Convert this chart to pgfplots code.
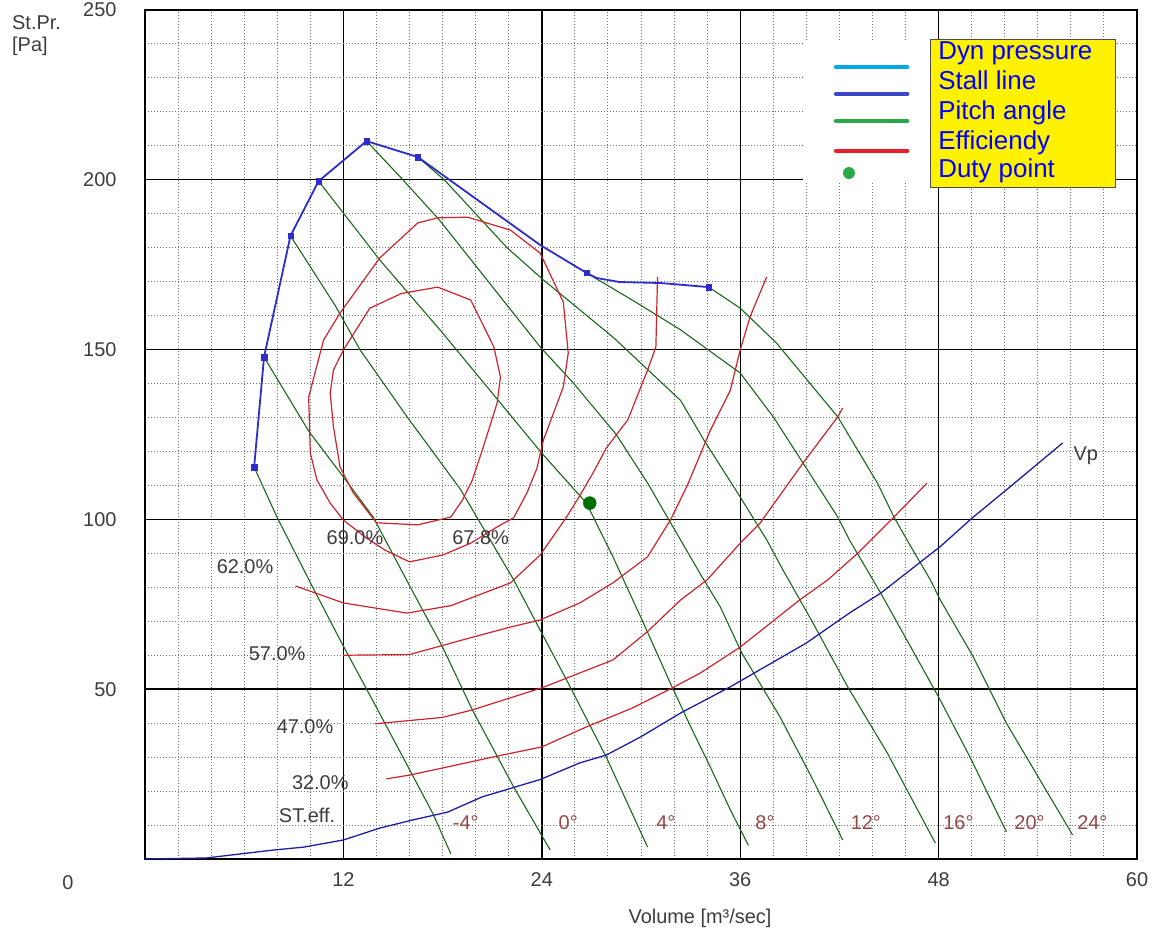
\documentclass[border=0pt]{standalone}
\usepackage{fontspec}
\setmainfont{Liberation Sans}
\usepackage{pgfplots}
\pgfplotsset{compat=1.18}

\definecolor{stall}{RGB}{45,45,205}
\definecolor{pitch}{RGB}{25,105,25}
\definecolor{eff}{RGB}{205,35,45}
\definecolor{vpc}{RGB}{30,30,165}
\definecolor{lbl}{RGB}{60,60,60}
\definecolor{deg}{RGB}{150,70,70}
\definecolor{duty}{RGB}{0,110,0}
\definecolor{dyn}{RGB}{0,170,230}
\definecolor{legstall}{RGB}{60,70,200}
\definecolor{leggreen}{RGB}{40,170,70}
\definecolor{legred}{RGB}{235,30,40}

\begin{document}
\begin{tikzpicture}
\path[use as bounding box] (-145bp,-77bp) rectangle (1013bp,859bp);
\begin{axis}[
  scale only axis, width=992bp, height=849bp,
  xmin=0, xmax=60, ymin=0, ymax=250,
  xtick={12,24,36,48,60}, ytick={50,100,150,200,250},
  minor xtick={0,2,...,60}, minor ytick={0,10,...,250},
  grid=both,
  major grid style={black, line width=1.4bp},
  minor grid style={black!55, line width=1bp, dash pattern=on 1.2bp off 1.8bp},
  major tick length=0pt, minor tick length=0pt,
  axis line style={black, line width=1.6bp},
  tick label style={font=\fontsize{20}{24}\selectfont, text=lbl},
  yticklabel style={xshift=-25bp},
  xticklabel style={yshift=-10bp},
  clip=false,
  /pgf/number format/assume math mode=true,
]
% pitch angle lines
\addplot[pitch, line width=1.1bp] coordinates {(6.6,115.4) (8.0,100.5) (10.2,79.5) (11.8,64.5) (14.2,42.8) (17.4,13.5) (18.5,1.5)};
\addplot[pitch, line width=1.1bp] coordinates {(7.2,147.8) (9.9,126) (12.0,112.5) (13.8,100.7) (16.0,80.5) (18.0,62.4) (19.8,43.9) (22.3,21.2) (24.5,2.7)};
\addplot[pitch, line width=1.1bp] coordinates {(8.8,183.5) (11.5,163) (13.0,150) (15.85,130.2) (17.2,121.3) (19.1,108.7) (22.3,82.2) (23.9,67.4) (25.5,52.7) (27.9,30) (30.4,3.5)};
\addplot[pitch, line width=1.1bp] coordinates {(10.5,199.6) (14.2,176.4) (18.0,154.9) (24.0,119.5) (26.7,104.8) (28.3,89) (30.1,70) (31.8,51.5) (33.0,39) (34.2,27) (35.4,14.5) (36.5,4)};
\addplot[pitch, line width=1.1bp] coordinates {(13.4,211.4) (15.6,200) (17.8,188.2) (23.9,150.8) (25.9,140.2) (28.5,125) (30.4,110.7) (31.8,98.9) (33.7,83) (34.8,74.2) (36.1,60.6) (38.4,41.9) (40.4,23.3) (42.2,5.6)};
\addplot[pitch, line width=1.1bp] coordinates {(16.5,206.7) (18.1,200) (21.9,180) (24.1,170.5) (28.3,153.7) (32.4,135) (33.8,123.4) (36.0,106.6) (37.6,94) (38.6,85) (40.4,69.5) (42.5,50.7) (44.9,31.2) (47.8,4.7)};
\addplot[pitch, line width=1.1bp] coordinates {(26.7,172.6) (29.5,164.5) (32.4,155.8) (36.0,143.1) (38.0,130.2) (39.8,116.6) (41.9,100.7) (42.6,94) (44.5,78.3) (48.1,46.8) (49.9,30) (52.1,8)};
\addplot[pitch, line width=1.1bp] coordinates {(34.1,168.4) (36.0,162.2) (38.2,151.9) (41.9,130.2) (44.3,110.7) (45.3,100.7) (46.2,93) (47.5,82.2) (48.1,76.3) (50.1,59.5) (52.1,40) (56.1,7.1)};
% efficiency curves
\addplot[eff, line width=1.2bp] coordinates {(20.4,120.4) (19.8,111.6) (19.2,105.7) (18.5,100.7) (16.5,98.4) (14.0,99) (12.6,107.8) (11.8,115.4) (11.4,127.2) (11.2,137.2) (11.4,144) (12.0,149.9) (13.6,162.2) (15.5,166.5) (17.7,168.4) (19.7,164.6) (21.1,150.8) (21.5,141.9) (21.3,134.3) (20.4,120.4)};
\addplot[eff, line width=1.2bp] coordinates {(24.1,123.4) (25.3,139) (25.6,149) (25.3,164) (23.9,178.4) (22.1,185.2) (19.5,189) (17.7,188.8) (16.5,187.3) (14.2,177) (11.8,160.8) (10.8,152.8) (9.9,136) (10.0,119.5) (10.4,111.6) (11.2,104.8) (12.0,99.8) (13.4,94.5) (14.5,91) (16.0,87.5) (18.0,89.5) (19.7,93) (21.3,97.8) (22.3,100.5) (23.1,107.8) (23.7,115) (24.1,123.4)};
\addplot[eff, line width=1.2bp] coordinates {(9.1,80.4) (12.0,75.4) (15.85,72.4) (18.5,74.6) (22.1,81.3) (23.9,89.5) (25.5,100.7) (26.3,107) (27.1,113.7) (27.9,121) (29.2,129.3) (30.4,144) (30.9,150.8) (31.0,171.4)};
\addplot[eff, line width=1.2bp] coordinates {(12.0,60) (16.0,60.2) (19.2,64.5) (22.1,68.3) (23.9,70.4) (26.3,75.4) (28.3,81.3) (30.4,89) (31.8,100) (32.8,110) (34.2,126.3) (35.4,138) (36.0,149.9) (36.6,159.7) (37.6,171.4)};
\addplot[eff, line width=1.2bp] coordinates {(13.9,39.8) (18.0,41.7) (19.8,43.9) (24.0,50.4) (28.3,58.6) (30.4,67) (32.4,76.3) (34.0,82.2) (36.0,93) (37.2,98.9) (39.8,116.6) (41.9,130.2) (42.2,132.8)};
\addplot[eff, line width=1.2bp] coordinates {(14.6,23.6) (16.0,24.7) (18.0,26.8) (21.3,30.3) (24.0,33) (26.7,38.9) (29.5,44.5) (31.9,50.4) (33.6,54.8) (36.0,62.4) (39.6,76.3) (41.3,82.2) (43.1,90) (45.3,100.7) (47.3,110.7)};
% Vp line
\addplot[vpc, line width=1.3bp] coordinates {(0,0) (3.7,0.3) (7.7,2.6) (9.6,3.5) (12.0,5.6) (14.2,9.1) (16.2,11.5) (18.3,13.8) (20.4,18.3) (23.9,23.4) (26.3,28.3) (27.9,30.6) (30.0,36) (32.4,43) (35.4,50.7) (40.0,63.6) (42.6,72.4) (44.5,78.3) (48.1,92) (50.1,100.7) (52.3,109.5) (55.5,122.5)};
% stall line
\addplot[stall, line width=1.8bp] coordinates {(6.6,115.4) (7.2,147.8) (8.8,183.5) (10.5,199.6) (13.4,211.4) (16.5,206.7) (23.9,180.8) (26.7,172.6) (27.3,171.1) (28.7,169.9) (31.2,169.6) (34.1,168.4)};
\addplot[only marks, mark=square*, mark size=2.7bp, stall] coordinates {(6.6,115.4) (7.2,147.8) (8.8,183.5) (10.5,199.6) (13.4,211.4) (16.5,206.7) (26.7,172.6) (34.1,168.4)};
% duty point
\addplot[only marks, mark=*, mark size=6.5bp, duty] coordinates {(26.9,104.8)};

% labels
\begin{scope}[every node/.style={font=\fontsize{20}{24}\selectfont, text=lbl, inner sep=0pt}]
\node at (axis cs:6.05,86.0) {62.0\%};
\node at (axis cs:7.99,60.6) {57.0\%};
\node at (axis cs:9.68,38.9) {47.0\%};
\node at (axis cs:10.6,22.4) {32.0\%};
\node at (axis cs:9.8,12.9) {ST.eff.};
\node at (axis cs:12.7,94.5) {69.0\%};
\node at (axis cs:20.3,94.5) {67.8\%};
\node[anchor=mid] at (axis cs:56.9,118.1) {Vp};
\end{scope}
\begin{scope}[every node/.style={font=\fontsize{20}{24}\selectfont, text=deg, inner sep=0pt}]
\node at (axis cs:19.4,10.6) {-4°};
\node at (axis cs:25.6,10.6) {0°};
\node at (axis cs:31.5,10.6) {4°};
\node at (axis cs:37.5,10.6) {8°};
\node at (axis cs:43.6,10.6) {12°};
\node at (axis cs:49.2,10.6) {16°};
\node at (axis cs:53.5,10.6) {20°};
\node at (axis cs:57.3,10.6) {24°};
\end{scope}

% legend
\fill[white] (axis cs:39.8,199.1) rectangle (axis cs:47.5,241.2);
\draw[dyn, line width=4.5bp, line cap=round] (axis cs:41.8,233.2) -- (axis cs:46.1,233.2);
\draw[legstall, line width=4.5bp, line cap=round] (axis cs:41.8,225.3) -- (axis cs:46.1,225.3);
\draw[leggreen, line width=4.5bp, line cap=round] (axis cs:41.8,217.3) -- (axis cs:46.1,217.3);
\draw[legred, line width=4.5bp, line cap=round] (axis cs:41.8,208.5) -- (axis cs:46.1,208.5);
\fill[leggreen] (axis cs:42.58,202.0) circle (6bp);
\draw[fill=yellow, draw=black!70, line width=0.8bp] (axis cs:47.48,197.7) rectangle (axis cs:58.67,241.2);
\begin{scope}[every node/.style={font=\fontsize{26}{30}\selectfont, text=blue, inner sep=0pt, anchor=mid west}]
\node at (axis cs:47.97,236.2) {Dyn pressure};
\node at (axis cs:47.97,227.4) {Stall line};
\node at (axis cs:47.97,218.5) {Pitch angle};
\node at (axis cs:47.97,209.7) {Efficiendy};
\node at (axis cs:47.97,201.4) {Duty point};
\end{scope}

% axis texts
\node[font=\fontsize{20}{24}\selectfont, text=lbl] at (rel axis cs:0,0) [xshift=-77bp, yshift=-24bp] {0};
\node[font=\fontsize{20}{24}\selectfont, text=lbl] at (rel axis cs:0.5,0) [xshift=59bp, yshift=-59bp] {Volume [m³/sec]};
\node[font=\fontsize{20}{24}\selectfont, text=lbl, anchor=west, inner sep=0pt] at (rel axis cs:0,1) [xshift=-133bp, yshift=-13bp] {St.Pr.};
\node[font=\fontsize{20}{24}\selectfont, text=lbl, anchor=west, inner sep=0pt] at (rel axis cs:0,1) [xshift=-133bp, yshift=-36bp] {[Pa]};
\end{axis}
\end{tikzpicture}
\end{document}
